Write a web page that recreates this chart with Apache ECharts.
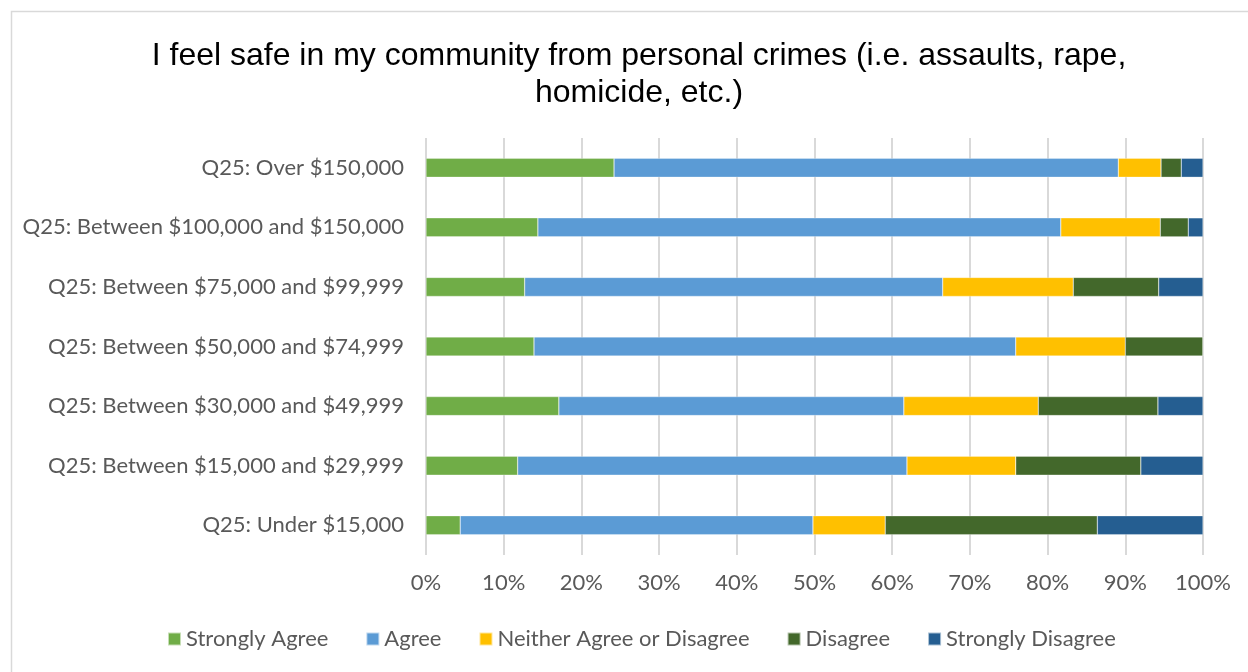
<!DOCTYPE html>
<html>
<head>
<meta charset="utf-8">
<script src="https://cdn.jsdelivr.net/npm/echarts@6/dist/echarts.min.js"></script>
<style>
html,body{margin:0;padding:0;background:#fff;}
#chart{width:1248px;height:672px;}
</style>
</head>
<body>
<div id="chart"></div>
<script>
const categories = [
  "Q25: Under $15,000",
  "Q25: Between $15,000 and $29,999",
  "Q25: Between $30,000 and $49,999",
  "Q25: Between $50,000 and $74,999",
  "Q25: Between $75,000 and $99,999",
  "Q25: Between $100,000 and $150,000",
  "Q25: Over $150,000"
];
const stronglyAgree    = [4.4, 11.8, 17.1, 13.9, 12.7, 14.4, 24.2];
const agree            = [45.4, 50.1, 44.4, 62.0, 53.8, 67.3, 64.9];
const neither          = [9.3, 14.0, 17.3, 14.1, 16.8, 12.8, 5.5];
const disagree         = [27.3, 16.1, 15.4, 10.0, 11.0, 3.6, 2.6];
const stronglyDisagree = [13.6, 8.0, 5.8, 0.0, 5.7, 1.9, 2.8];
const seriesNames = ["Strongly Agree", "Agree", "Neither Agree or Disagree", "Disagree", "Strongly Disagree"];
const colors = ["#70AD47", "#5B9BD5", "#FFC000", "#43682B", "#255E91"];
const xTicks = [0, 10, 20, 30, 40, 50, 60, 70, 80, 90, 100];

const seriesData = [stronglyAgree, agree, neither, disagree, stronglyDisagree];
const labelFont = "Lato";
const chart = echarts.init(document.getElementById('chart'));
chart.setOption({
  animation: false,
  backgroundColor: '#fff',
  title: {
    text: "I feel safe in my community from personal crimes (i.e. assaults, rape,\nhomicide, etc.)",
    left: 634, top: 33, textAlign: 'center',
    textStyle: { fontFamily: 'Liberation Sans', fontSize: 32, fontWeight: 'normal', color: '#000', lineHeight: 37 }
  },
  graphic: [{
    type: 'rect', silent: true, z: -1,
    shape: { x: 11.5, y: 11.5, width: 1400, height: 800 },
    style: { fill: 'none', stroke: '#d9d9d9', lineWidth: 1.5 }
  }],
  legend: {
    bottom: 17, left: 162,
    itemWidth: 13, itemHeight: 13, itemGap: 37,
    icon: 'rect',
    textStyle: { fontFamily: labelFont, fontSize: 22, color: '#595959' },
    data: seriesNames
  },
  grid: { left: 426, right: 45, top: 138, bottom: 117, containLabel: false },
  xAxis: {
    type: 'value', min: 0, max: 100, interval: 10,
    axisLine: { show: false }, axisTick: { show: false },
    splitLine: { lineStyle: { color: '#d9d9d9', width: 2 } },
    axisLabel: { formatter: v => v + '%', fontFamily: labelFont, fontSize: 22, color: '#595959', margin: 17 }
  },
  yAxis: {
    type: 'category', data: categories,
    axisLine: { show: false }, axisTick: { show: false },
    axisLabel: { fontFamily: labelFont, fontSize: 22, color: '#595959', margin: 22 }
  },
  series: seriesData.map((d, i) => ({
    name: seriesNames[i], type: 'bar', stack: 'total', data: d,
    barWidth: 19,
    itemStyle: { color: colors[i], borderColor: 'rgba(255,255,255,0.6)', borderWidth: 0.5 }
  }))
});
</script>
</body>
</html>
